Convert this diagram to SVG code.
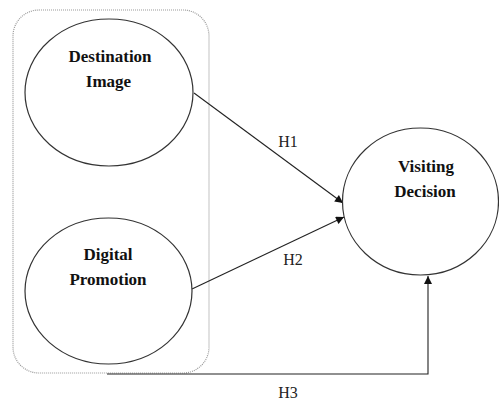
<svg xmlns="http://www.w3.org/2000/svg" width="499" height="401" viewBox="0 0 499 401">
<style>
.node{fill:#fff;stroke:#333;stroke-width:1.2}
.lbl{font-family:'Liberation Serif','DejaVu Serif',serif;font-weight:bold;font-size:17px;fill:#111;text-anchor:middle}
.h{font-family:'Liberation Serif','DejaVu Serif',serif;font-size:16px;fill:#222;text-anchor:middle}
.conn{fill:none;stroke:#222;stroke-width:1.1}
</style>
<defs>
<marker id="arr" viewBox="0 0 10 10" refX="10" refY="5" markerWidth="9" markerHeight="8" markerUnits="userSpaceOnUse" orient="auto">
<path d="M0,0 L10,5 L0,10 z" fill="#111"/>
</marker>
</defs>
<rect width="499" height="401" fill="#fff"/>
<g id="group-box">
<rect x="13" y="10" width="196" height="363" rx="26" ry="26" fill="none" stroke="#999" stroke-width="1.2" stroke-dasharray="1,1"/>
</g>
<g id="connectors">
<line class="conn" x1="194" y1="93" x2="343" y2="203" marker-end="url(#arr)"/>
<line class="conn" x1="192" y1="289" x2="344" y2="217" marker-end="url(#arr)"/>
<polyline class="conn" points="107,374 428,374 428,276" marker-end="url(#arr)"/>
<text class="h" x="288" y="147">H1</text>
<text class="h" x="293" y="265">H2</text>
<text class="h" x="288" y="398">H3</text>
</g>
<g id="destination-image">
<ellipse class="node" cx="109" cy="92.5" rx="84" ry="73.5"/>
<text class="lbl" x="110" y="62">Destination</text>
<text class="lbl" x="108.5" y="87">Image</text>
</g>
<g id="digital-promotion">
<ellipse class="node" cx="108.5" cy="291" rx="83.5" ry="73"/>
<text class="lbl" x="108" y="260">Digital</text>
<text class="lbl" x="108" y="285">Promotion</text>
</g>
<g id="visiting-decision">
<ellipse class="node" cx="420.5" cy="201.5" rx="78" ry="73.5"/>
<text class="lbl" x="426" y="172">Visiting</text>
<text class="lbl" x="425" y="197">Decision</text>
</g>
</svg>
